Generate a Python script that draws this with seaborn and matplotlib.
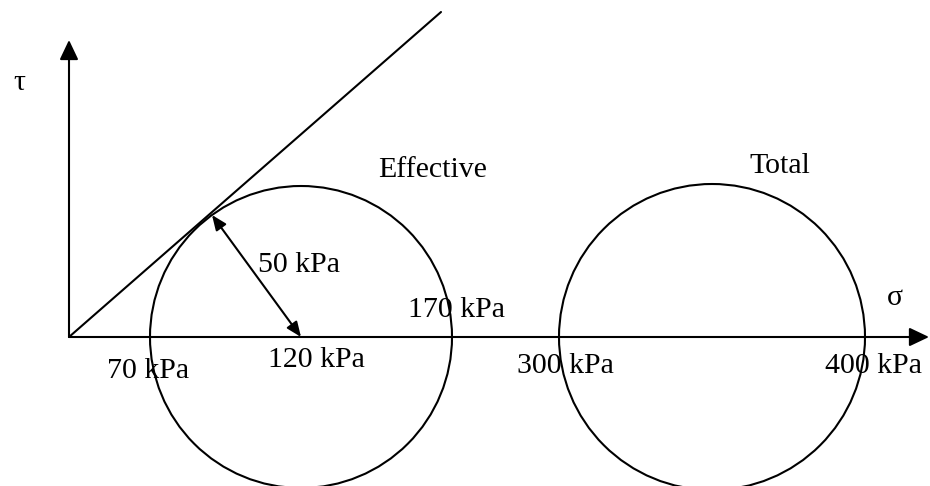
import numpy as np
import matplotlib
matplotlib.use("Agg")
import matplotlib.pyplot as plt
import seaborn as sns

# schematic drawing units (the sketch is not to scale)
H = 486
origin = (69, H - 337)
tau_top = H - 40
sigma_end = 929
envelope_end = (441, H - 12)

circle_names = ["Effective", "Total"]
circle_center_x = [301, 712]
circle_radius = [151, 153]
circle_name_pos = [(433, H - 177), (780, H - 173)]

stress_labels = ["70 kPa", "120 kPa", "170 kPa", "300 kPa", "400 kPa"]
stress_label_pos = [(148, H - 378), (316, H - 367), (456, H - 317),
                    (565, H - 373), (873, H - 373)]

radius_label = "50 kPa"
radius_label_pos = (299, H - 272)
tangent_point = (212, H - 215)

axis_labels = ["τ", "σ"]
axis_label_pos = [(19, H - 90), (895, H - 305)]

sns.set_theme(style="white")
plt.rcParams['font.family'] = ['Liberation Serif', 'DejaVu Serif']
plt.rcParams['text.color'] = 'black'

fig = plt.figure(figsize=(9.3, 4.86), dpi=100)
ax = fig.add_axes([0, 0, 1, 1])
ax.set_xlim(0, 930)
ax.set_ylim(0, H)
ax.axis("off")

lw = 1.5
fs = 21.5
head = "-|>,head_length=0.8,head_width=0.38"

# axes with arrow heads
for tip in [(origin[0], tau_top), (sigma_end, origin[1])]:
    ax.annotate("", xy=tip, xytext=origin,
                arrowprops=dict(arrowstyle=head, mutation_scale=15, lw=lw,
                                color="black", shrinkA=0, shrinkB=0))
for lab, (x, y) in zip(axis_labels, axis_label_pos):
    ax.text(x, y, lab, fontsize=fs, ha="center", va="baseline", color="black")

# failure envelope
sns.lineplot(x=[origin[0], envelope_end[0]], y=[origin[1], envelope_end[1]],
             ax=ax, color="black", lw=lw, sort=False)

# Mohr circles
for cx, r in zip(circle_center_x, circle_radius):
    ax.add_patch(plt.Circle((cx, origin[1]), r, fill=False,
                            lw=lw, color="black"))
for name, (x, y) in zip(circle_names, circle_name_pos):
    ax.text(x, y, name, fontsize=fs, ha="center", va="baseline", color="black")

# radius arrow
ax.annotate("", xy=tangent_point, xytext=(circle_center_x[0], origin[1]),
            arrowprops=dict(arrowstyle="<|-|>,head_length=0.6,head_width=0.25",
                            mutation_scale=15, lw=lw, color="black",
                            shrinkA=0, shrinkB=0))
ax.text(*radius_label_pos, radius_label, fontsize=fs, ha="center",
        va="baseline", color="black")

for lab, (x, y) in zip(stress_labels, stress_label_pos):
    ax.text(x, y, lab, fontsize=fs, ha="center", va="baseline", color="black")

fig.savefig("out.png", dpi=100, facecolor="white")
